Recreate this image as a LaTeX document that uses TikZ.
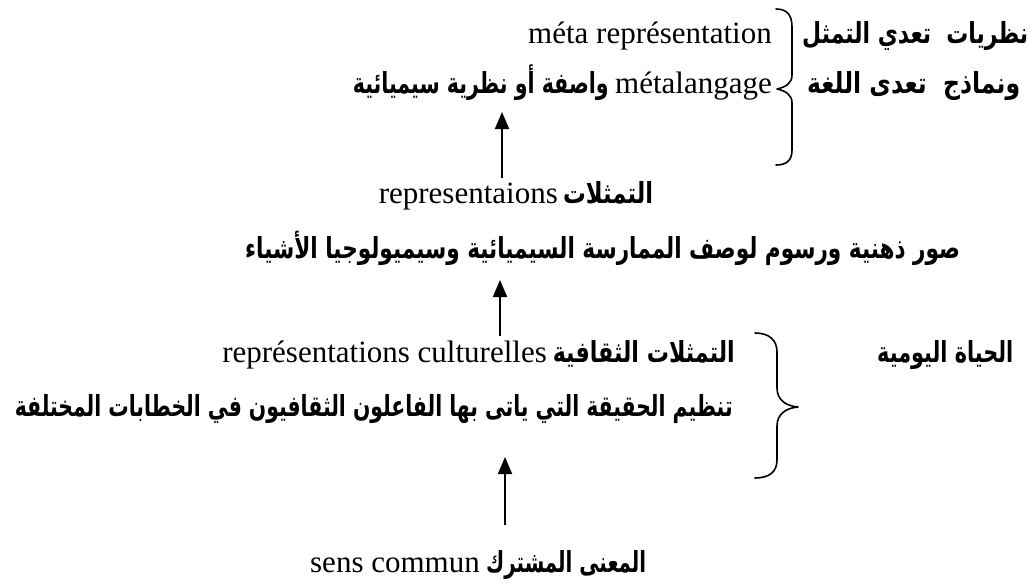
\documentclass[tikz,border=0pt]{standalone}
\usepackage{fontspec}
\usepackage{graphicx}
\setmainfont{Liberation Serif}
\newfontfamily\arabicfont[Script=Arabic]{DejaVu Sans}
\TeXXeTstate=1
\usetikzlibrary{arrows.meta}
\newcommand{\AR}[2]{\resizebox{#1pt}{\height}{\arabicfont\bfseries #2}}
\tikzset{
  lat/.style={font=\fontsize{31}{37}\selectfont, inner sep=0pt},
  ar/.style={font=\fontsize{29}{34}\selectfont\arabicfont\bfseries, inner sep=0pt},
  uparrow/.style={line width=1.8pt, -{Triangle[width=14pt,length=17pt]}},
  bracestyle/.style={line width=1.6pt, line join=round, line cap=round}
}
\begin{document}
\begin{tikzpicture}[x=1pt,y=-1pt]
\useasboundingbox (0,0) rectangle (1032,587);
% line 1 and 2
\node[lat, anchor=base east] (t1lat) at (772,43) {méta représentation};
\node[ar, anchor=base west] (t1ar) at (802,43) {\AR{226}{\beginR نظريات\ \ تعدي التمثل\endR}};
\node[ar, anchor=base east] (t2ar) at (609,93) {\AR{256}{\beginR واصفة أو نظرية سيميائية\endR}};
\node[lat, anchor=base east] (t2lat) at (772,93) {métalangage};
\node[ar, anchor=base west] (t2arr) at (807,93) {\AR{213}{\beginR ونماذج\ \ تعدى اللغة\endR}};
% brace 1
\draw[bracestyle] (776,9) .. controls (787,9) and (792,15) .. (792,27)
  -- (792,75) .. controls (792,83) and (786,87) .. (777,89)
  .. controls (786,91) and (792,95) .. (792,103)
  -- (792,150) .. controls (792,160) and (787,165) .. (776,165);
% line 3, 4
\node[lat, anchor=base east] (t3lat) at (558,203) {representaions};
\node[ar, anchor=base west] (t3ar) at (563,203) {\AR{90}{\beginR التمثلات\endR}};
\node[ar, anchor=base west] (t4ar) at (245,258) {\AR{715}{\beginR صور ذهنية ورسوم لوصف الممارسة السيميائية وسيميولوجيا الأشياء\endR}};
% line 5, 6
\node[lat, anchor=base east] (t5lat) at (547,362) {représentations culturelles};
\node[ar, anchor=base east] (t5ar) at (735,362) {\AR{182}{\beginR التمثلات الثقافية\endR}};
\node[ar, anchor=base west] (t5r) at (877,362) {\AR{136}{\beginR الحياة اليومية\endR}};
\node[ar, anchor=base east] (t6ar) at (733,416) {\AR{718}{\beginR تنظيم الحقيقة التي ياتى بها الفاعلون الثقافيون في الخطابات المختلفة\endR}};
% brace 2
\draw[bracestyle] (755,333) .. controls (769,333) and (777,340) .. (777,352)
  -- (777,388) .. controls (777,400) and (786,406) .. (798,407)
  .. controls (786,408) and (777,414) .. (777,426)
  -- (777,460) .. controls (777,472) and (769,478) .. (755,478);
% line 7
\node[lat, anchor=base east] (t7lat) at (480,572) {sens commun};
\node[ar, anchor=base west] (t7ar) at (486,572) {\AR{160}{\beginR المعنى المشترك\endR}};
% arrows
\coordinate (a1s) at (502,178);
\coordinate (a1e) at (502,112);
\coordinate (a2s) at (500,336);
\coordinate (a2e) at (500,280);
\coordinate (a3s) at (505,525);
\coordinate (a3e) at (505,457);
\draw[uparrow] (a1s) -- (a1e);
\draw[uparrow] (a2s) -- (a2e);
\draw[uparrow] (a3s) -- (a3e);
\end{tikzpicture}
\end{document}
